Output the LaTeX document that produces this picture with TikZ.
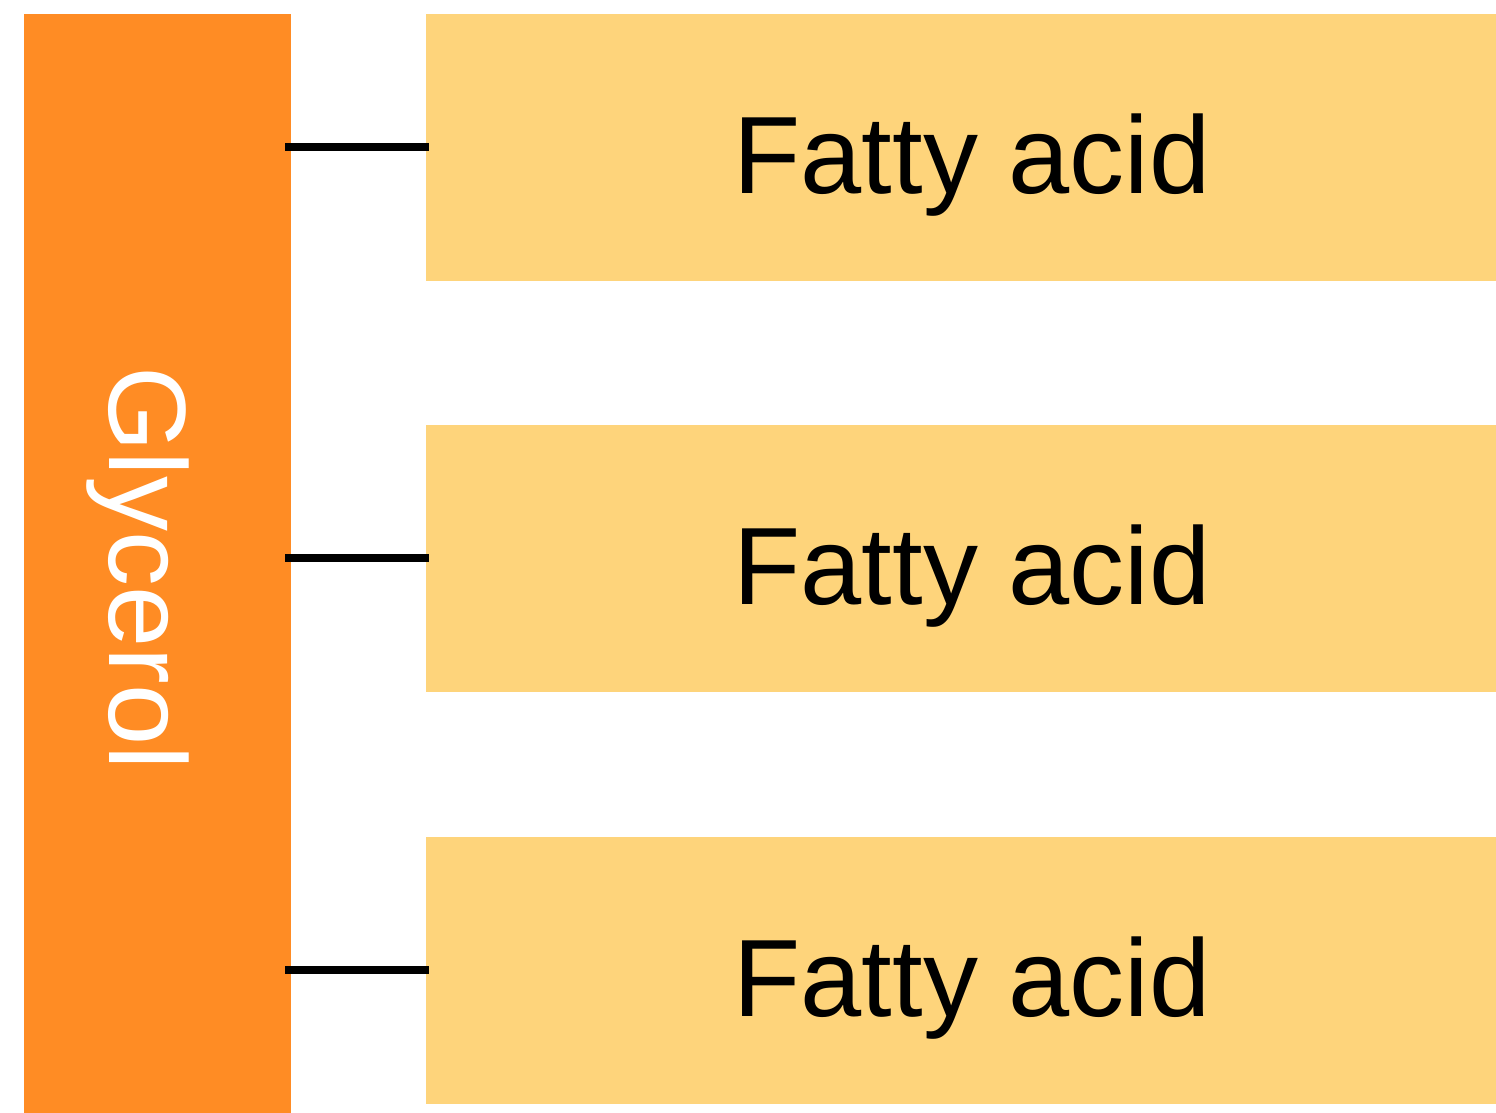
\documentclass[tikz,border=0pt]{standalone}
\usepackage{fontspec}
\setmainfont{Liberation Sans}
\definecolor{glyc}{HTML}{FF8C24}
\definecolor{fatty}{HTML}{FED47B}
\begin{document}
\begin{tikzpicture}[x=1pt,y=-1pt,
  fabox/.style={fill=fatty,draw=none,minimum width=1070pt,minimum height=267pt,inner sep=0pt,anchor=north west},
  label/.style={font=\fontsize{110}{120}\selectfont},
  bond/.style={line width=8pt,black}]
\useasboundingbox (0,0) rectangle (1496,1113);
\node[fill=glyc,draw=none,minimum width=267pt,minimum height=1099pt,inner sep=0pt,anchor=north west] (g) at (24,14) {};
\node[label,white,rotate=-90] (gl) at (138,568) {Glycerol};
\node[fabox] (f1) at (426,14) {};
\node[fabox] (f2) at (426,425) {};
\node[fabox] (f3) at (426,837) {};
\node[label] (t1) at (972,165) {Fatty acid};
\node[label] (t2) at (972,576) {Fatty acid};
\node[label] (t3) at (972,988) {Fatty acid};
\coordinate (a1) at (285,147);
\coordinate (a2) at (285,558);
\coordinate (a3) at (285,970);
\draw[bond] (a1) -- ([xshift=3pt]f1.west |- a1);
\draw[bond] (a2) -- ([xshift=3pt]f2.west |- a2);
\draw[bond] (a3) -- ([xshift=3pt]f3.west |- a3);
\end{tikzpicture}
\end{document}
